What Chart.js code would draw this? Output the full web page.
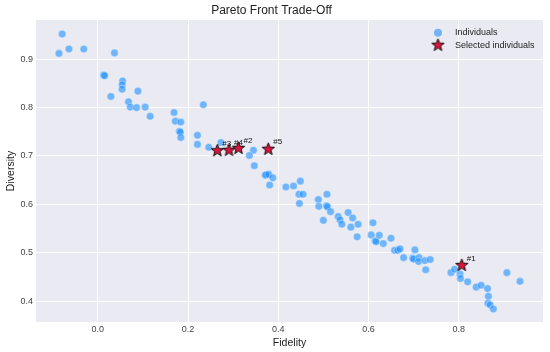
<!DOCTYPE html>
<html>
<head>
<meta charset="utf-8">
<title>Pareto Front Trade-Off</title>
<script src="https://cdn.jsdelivr.net/npm/chart.js@4/dist/chart.umd.min.js"></script>
<style>
  html, body { margin: 0; padding: 0; background: #fff; }
  canvas { display: block; }
</style>
</head>
<body>
<canvas id="chart" width="550" height="352"></canvas>
<script>
// all individuals on the front
const fidelity = [
  -0.079, -0.086, -0.064, -0.031, 0.037, 0.013, 0.015, 0.055, 0.054, 0.054,
  0.089, 0.029, 0.068, 0.072, 0.086, 0.105, 0.116, 0.234, 0.169, 0.172,
  0.184, 0.181, 0.183, 0.184, 0.221, 0.221, 0.246, 0.273, 0.345, 0.336,
  0.347, 0.371, 0.373, 0.379, 0.388, 0.381, 0.417, 0.434, 0.449, 0.446,
  0.455, 0.447, 0.489, 0.508, 0.490, 0.507, 0.509, 0.516, 0.500, 0.533,
  0.537, 0.541, 0.555, 0.565, 0.561, 0.577, 0.575, 0.610, 0.606, 0.615,
  0.617, 0.624, 0.633, 0.650, 0.658, 0.665, 0.670, 0.678, 0.703, 0.698,
  0.700, 0.712, 0.711, 0.725, 0.737, 0.727, 0.783, 0.791, 0.803, 0.804,
  0.820, 0.839, 0.850, 0.864, 0.866, 0.865, 0.870, 0.877, 0.907, 0.936
];
const diversity = [
  0.952, 0.912, 0.921, 0.921, 0.913, 0.867, 0.866, 0.855, 0.847, 0.838,
  0.834, 0.823, 0.812, 0.801, 0.800, 0.801, 0.782, 0.806, 0.790, 0.772,
  0.770, 0.751, 0.749, 0.738, 0.743, 0.724, 0.718, 0.728, 0.712, 0.701,
  0.680, 0.660, 0.661, 0.662, 0.655, 0.640, 0.636, 0.638, 0.648, 0.621,
  0.621, 0.602, 0.610, 0.621, 0.596, 0.597, 0.595, 0.585, 0.567, 0.575,
  0.568, 0.559, 0.583, 0.572, 0.553, 0.559, 0.533, 0.562, 0.537, 0.525,
  0.523, 0.536, 0.519, 0.530, 0.505, 0.505, 0.508, 0.490, 0.506, 0.489,
  0.487, 0.490, 0.482, 0.484, 0.486, 0.465, 0.459, 0.466, 0.456, 0.447,
  0.440, 0.429, 0.433, 0.426, 0.410, 0.396, 0.392, 0.384, 0.459, 0.441
];

// selected individuals (#1..#5)
const selectedNames = ['#1', '#2', '#3', '#4', '#5'];
const selectedFidelity = [0.807, 0.312, 0.265, 0.291, 0.378];
const selectedDiversity = [0.474, 0.716, 0.711, 0.712, 0.714];

const seriesNames = ['Individuals', 'Selected individuals'];
const xTicks = [0.0, 0.2, 0.4, 0.6, 0.8];
const yTicks = [0.4, 0.5, 0.6, 0.7, 0.8, 0.9];

const FONT = '"Liberation Sans", Arial, sans-serif';
const BLUE = 'rgba(30, 144, 255, 0.6)';

// filled star marker (Chart.js 'star' is only an asterisk)
function makeStar(size) {
  const c = document.createElement('canvas');
  c.width = size; c.height = size;
  const g = c.getContext('2d');
  const cx = size / 2, cy = size / 2;
  const outer = size / 2 - 1, inner = outer * 0.42;
  g.beginPath();
  for (let i = 0; i < 10; i++) {
    const r = i % 2 === 0 ? outer : inner;
    const a = -Math.PI / 2 + i * Math.PI / 5;
    const px = cx + r * Math.cos(a), py = cy + r * Math.sin(a);
    if (i === 0) g.moveTo(px, py); else g.lineTo(px, py);
  }
  g.closePath();
  g.fillStyle = '#dc143c';
  g.fill();
  g.lineWidth = 1;
  g.strokeStyle = '#111';
  g.stroke();
  return c;
}
const starImg = makeStar(15);

const individuals = fidelity.map((x, i) => ({ x: x, y: diversity[i] }));
const selected = selectedFidelity.map((x, i) => ({ x: x, y: selectedDiversity[i] }));

// grey plot area like seaborn darkgrid
const plotBackground = {
  id: 'plotBackground',
  beforeDraw(chart) {
    const { ctx, chartArea: a } = chart;
    ctx.save();
    ctx.fillStyle = '#eaeaf2';
    ctx.fillRect(a.left, a.top, a.right - a.left, a.bottom - a.top);
    ctx.restore();
  }
};

// "#n" annotations next to the stars
const starLabels = {
  id: 'starLabels',
  afterDatasetsDraw(chart) {
    const { ctx, scales } = chart;
    ctx.save();
    ctx.font = '8px ' + FONT;
    ctx.fillStyle = '#111';
    ctx.textAlign = 'left';
    ctx.textBaseline = 'middle';
    selectedNames.forEach((name, i) => {
      const px = scales.x.getPixelForValue(selectedFidelity[i]);
      const py = scales.y.getPixelForValue(selectedDiversity[i]);
      ctx.fillText(name, px + 5, py - 7);
    });
    ctx.restore();
  }
};

// legend inside the top right corner of the plot
const innerLegend = {
  id: 'innerLegend',
  afterDraw(chart) {
    const { ctx, chartArea: a } = chart;
    const mx = a.right - 105;
    const tx = a.right - 88;
    const rows = [a.top + 12.7, a.top + 25.2];
    ctx.save();
    ctx.beginPath();
    ctx.arc(mx, rows[0], 4, 0, Math.PI * 2);
    ctx.fillStyle = BLUE;
    ctx.fill();
    ctx.drawImage(starImg, mx - starImg.width / 2, rows[1] - starImg.height / 2);
    ctx.font = '9px ' + FONT;
    ctx.fillStyle = '#222';
    ctx.textAlign = 'left';
    ctx.textBaseline = 'middle';
    seriesNames.forEach((name, i) => ctx.fillText(name, tx, rows[i]));
    ctx.restore();
  }
};

new Chart(document.getElementById('chart'), {
  type: 'scatter',
  data: {
    datasets: [
      {
        label: seriesNames[1],
        data: selected,
        pointStyle: starImg,
        order: 1
      },
      {
        label: seriesNames[0],
        data: individuals,
        pointRadius: 3.8,
        backgroundColor: BLUE,
        borderColor: 'rgba(255, 255, 255, 0.7)',
        borderWidth: 0.5,
        order: 2
      }
    ]
  },
  options: {
    responsive: false,
    animation: false,
    devicePixelRatio: 1,
    layout: { padding: { left: 0, right: 7, top: 0, bottom: 0 } },
    plugins: {
      legend: { display: false },
      tooltip: { enabled: false },
      title: {
        display: true,
        text: 'Pareto Front Trade-Off',
        color: '#222',
        font: { family: FONT, size: 12, weight: 'normal' },
        padding: { top: 3, bottom: 2.6 }
      }
    },
    scales: {
      x: {
        type: 'linear',
        min: -0.137,
        max: 0.987,
        afterBuildTicks: (scale) => { scale.ticks = xTicks.map(v => ({ value: v })); },
        afterFit: (scale) => { scale.height = 30; },
        grid: { color: '#ffffff', lineWidth: 1, drawTicks: false },
        border: { display: false },
        ticks: {
          color: '#444',
          padding: 2,
          font: { family: FONT, size: 9 },
          callback: (v) => v.toFixed(1)
        },
        title: {
          display: true,
          text: 'Fidelity',
          color: '#222',
          font: { family: FONT, size: 10.5 },
          padding: { top: 0, bottom: 3 }
        }
      },
      y: {
        type: 'linear',
        min: 0.357,
        max: 0.981,
        afterBuildTicks: (scale) => { scale.ticks = yTicks.map(v => ({ value: v })); },
        afterFit: (scale) => { scale.width = 36; },
        grid: { color: '#ffffff', lineWidth: 1, drawTicks: false },
        border: { display: false },
        ticks: {
          color: '#444',
          padding: 3,
          font: { family: FONT, size: 9 },
          callback: (v) => v.toFixed(1)
        },
        title: {
          display: true,
          text: 'Diversity',
          color: '#222',
          font: { family: FONT, size: 10.5 },
          padding: { top: 5, bottom: 0 }
        }
      }
    }
  },
  plugins: [plotBackground, starLabels, innerLegend]
});
</script>
</body>
</html>
